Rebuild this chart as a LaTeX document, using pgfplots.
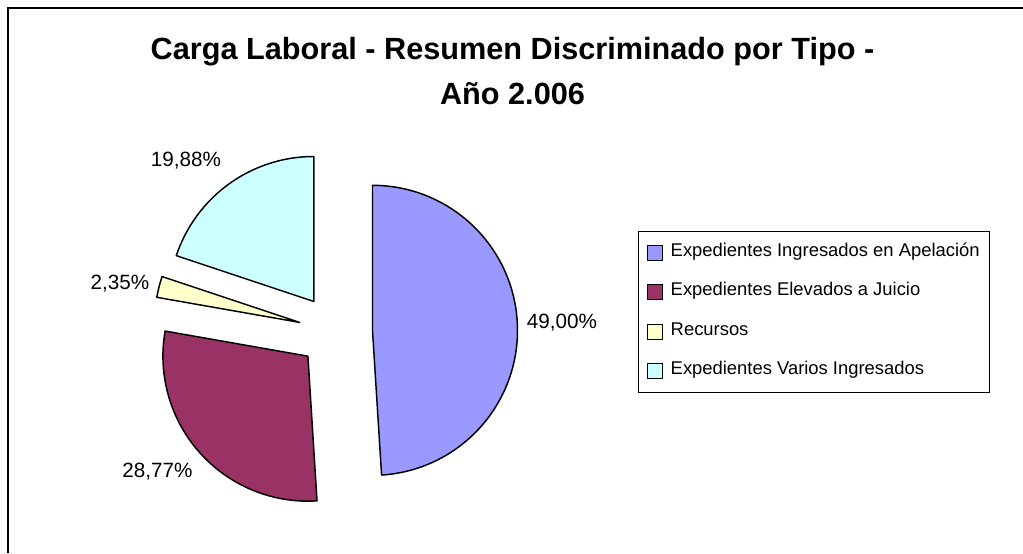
\documentclass[border=0pt]{standalone}
\usepackage{fontspec}
\setmainfont{Liberation Sans}
\usepackage{pgfplots}
\usepackage{pgfplotstable}
\pgfplotsset{compat=1.18}

\definecolor{cBlue}{HTML}{9999FF}
\definecolor{cMaroon}{HTML}{993366}
\definecolor{cYellow}{HTML}{FFFFCC}
\definecolor{cCyan}{HTML}{CCFFFF}

% share of each type (percent), clockwise from 12 o'clock
\pgfplotstableread[col sep=semicolon]{
label;value;color
Expedientes Ingresados en Apelación;49.00;cBlue
Expedientes Elevados a Juicio;28.77;cMaroon
Recursos;2.35;cYellow
Expedientes Varios Ingresados;19.88;cCyan
}\piedata

% pie geometry in pixel units (1px = 0.75pt)
\def\cx{335.5}
\def\cy{221.5}
\def\ex{37}
\def\rr{145}

\begin{document}
\begin{tikzpicture}
\begin{axis}[
  x=0.75pt, y=0.75pt,
  xmin=0, xmax=1023, ymin=0, ymax=553,
  hide axis, clip=false,
  legend image code/.code={\draw[#1, line width=0.9pt] (0pt,-5.6pt) rectangle (11.2pt,5.6pt);},
  legend cell align=left,
  legend style={
    at={(axis cs:638,322)}, anchor=north west,
    draw=black, line width=0.9pt,
    font=\fontsize{13.8}{16}\selectfont,
    inner xsep=6pt, inner ysep=9.5pt,
    row sep=16.9pt,
    nodes={inner sep=1.5pt, text height=0.75em, text depth=0.22em},
    /tikz/every odd column/.append style={column sep=4.5pt},
  },
]
\def\startang{90}
\pgfplotsforeachungrouped \i in {0,...,3}{%
  \pgfplotstablegetelem{\i}{value}\of\piedata \let\val\pgfplotsretval
  \pgfplotstablegetelem{\i}{color}\of\piedata \let\col\pgfplotsretval
  \pgfplotstablegetelem{\i}{label}\of\piedata \let\lab\pgfplotsretval
  \pgfmathsetmacro\endang{\startang-3.6*\val}
  \pgfmathsetmacro\midang{(\startang+\endang)/2}
  \pgfmathsetmacro\ax{\cx+\ex*cos(\midang)}
  \pgfmathsetmacro\ay{\cy+\ex*sin(\midang)}
  \pgfmathsetmacro\bx{\ax+\rr*cos(\startang)}
  \pgfmathsetmacro\by{\ay+\rr*sin(\startang)}
  \pgfmathsetmacro\rpt{\rr*0.75}
  \edef\temp{%
    \noexpand\filldraw[fill=\col, draw=black, line width=1.1pt, line join=round]
      (axis cs:\ax,\ay) -- (axis cs:\bx,\by)
      arc[start angle=\startang, end angle=\endang, radius=\rpt pt] -- cycle;
    \noexpand\addlegendimage{fill=\col, draw=black}
    \noexpand\addlegendentry{\lab}%
  }%
  \temp
  \global\let\startang\endang
}

% percentage labels
\begin{scope}[every node/.style={font=\fontsize{15.5}{18}\selectfont}]
\node at (axis cs:562,230.5) {49,00\%};
\node at (axis cs:157.5,81.5) {28,77\%};
\node at (axis cs:120,269) {2,35\%};
\node at (axis cs:186,392) {19,88\%};
\end{scope}

% title
\node[anchor=base, font=\fontsize{23}{27}\bfseries] at (axis cs:512.5,493) {Carga Laboral - Resumen Discriminado por Tipo -};
\node[anchor=base, font=\fontsize{23}{27}\bfseries] at (axis cs:512.5,448) {Año 2.006};

% chart area border (left and top edges visible)
\draw[line width=1.5pt] (axis cs:7.7,0) -- (axis cs:7.7,544.7) -- (axis cs:1023,544.7);
\end{axis}
\pgfresetboundingbox
\path (0,0) rectangle (767.25pt,414.75pt);
\end{tikzpicture}
\end{document}
